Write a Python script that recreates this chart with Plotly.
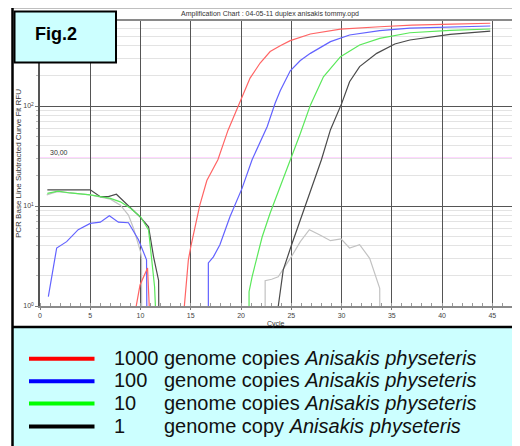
import plotly.graph_objects as go

# ---------------- data ----------------
red_cycles = [9.4, 9.95, 10.7, 11.0, 14.1, 14.76, 15.0, 15.6, 15.9, 16.6, 17.7, 18.7, 19.9, 20.9,
              21.9, 22.9, 23.9, 24.9, 26.9, 29.9, 33.8, 37.0, 41.0, 44.8]
red_values = [0.8, 1.62, 2.4, 0.5, 0.5, 2.88, 3.9, 7.6, 10.2, 18, 29, 57, 110, 190,
              269, 350, 400, 450, 525, 588, 620, 645, 660, 672]

blue_cycles = [0.83, 1.66, 2.65, 3.8, 5.0, 6.0, 6.9, 7.8, 8.8, 9.8, 10.6, 10.7, 16.75, 16.75,
               17.25, 17.9, 18.9, 19.6, 20.1, 21.1, 22.6, 23.4, 23.9, 24.9, 25.9, 26.9, 28.9,
               30.8, 33.8, 36.8, 40.8, 44.8]
blue_values = [1.24, 3.8, 4.4, 5.8, 6.7, 6.9, 8.0, 6.9, 6.8, 4.6, 2.9, 0.05, 0.05, 2.7,
               3.1, 4.1, 7.8, 11.5, 15, 29, 62, 107, 142, 225, 285, 336, 440,
               513, 567, 600, 620, 631]

green_cycles = [0.73, 1.8, 3.0, 5.0, 7.0, 8.0, 9.0, 10.0, 10.8, 11.1, 11.4, 11.7, 20.8, 20.8,
                21.1, 21.6, 22.1, 22.9, 23.9, 24.9, 25.9, 26.9, 28.2, 29.9, 31.8, 33.8, 36.8,
                40.8, 44.8]
green_values = [13.4, 14.1, 13.5, 12.9, 11.9, 11.0, 9.5, 7.8, 5.75, 3.1, 1.56, 0.3, 0.05, 1.39,
                1.96, 3.1, 4.9, 8.5, 15.6, 29, 53, 102, 196, 311, 407, 474, 540,
                570, 589]

black_cycles = [0.73, 2.0, 3.0, 5.0, 6.0, 6.8, 7.6, 9.0, 9.95, 10.8, 11.3, 11.8, 11.9, 23.3,
                24.2, 25.0, 26.0, 27.0, 28.0, 28.9, 30.0, 30.8, 31.8, 33.5, 35.3, 36.8, 40.8, 44.8]
black_values = [14.5, 14.5, 14.5, 14.5, 12.4, 12.4, 13.1, 9.5, 7.8, 6.2, 3.1, 1.8, 0.05, 0.5,
                2.3, 4.0, 7.8, 15.5, 29, 58, 105, 175, 248, 336, 417, 457, 520, 562]

gray_cycles = [0.67, 1.7, 3.0, 5.0, 7.0, 8.0, 8.8, 9.3, 10.0, 10.1, 10.15, 22.4, 22.4, 23.05,
               23.7, 24.4, 25.0, 25.9, 26.8, 27.9, 28.9, 29.95, 30.8, 31.8, 32.8, 33.8, 33.85]
gray_values = [12.9, 13.9, 13.5, 12.9, 11.7, 10.2, 8.1, 6.0, 3.5, 3.0, 0.05, 0.05, 1.79, 1.85,
               1.96, 2.5, 3.1, 4.4, 5.8, 5.1, 4.5, 4.7, 3.8, 4.1, 3.0, 1.5, 0.05]

threshold = 30.0
threshold_label = "30,00"

x_ticks = [0, 5, 10, 15, 20, 25, 30, 35, 40, 45]
y_ticks = [1, 10, 100]
y_ticktext = ["10<sup>0</sup>", "10<sup>1</sup>", "10<sup>2</sup>"]

legend_numbers = ["1000", "100", "10", "1"]
legend_words = ["genome copies", "genome copies", "genome copies", "genome copy"]
legend_species = "Anisakis physeteris"
legend_colors = ["#ff0000", "#0000ff", "#00ff00", "#000000"]

chart_title = "Amplification Chart : 04-05-11 duplex anisakis tommy.opd"
y_title = "PCR Base Line Subtracted Curve Fit RFU"
x_title = "Cycle"
fig_label = "Fig.2"

# ---------------- layout helpers (reference pixel -> paper) ----------------
# the page body adds an 8px margin, so the figure is 8px smaller and
# its margins are reduced on the left / top accordingly
OFF = 8
W, H = 520 - OFF, 446 - OFF
L, R, T, B = 40, 513, 21, 306


def px(x):
    return (x - L) / (R - L)


def py(y):
    return (B - y) / (B - T)


FONT = "Liberation Sans, Arial, sans-serif"

fig = go.Figure()
series = [
    (gray_cycles, gray_values, "#c2c2c2"),
    (black_cycles, black_values, "#4a4a4a"),
    (green_cycles, green_values, "#5ae85a"),
    (blue_cycles, blue_values, "#6262ff"),
    (red_cycles, red_values, "#ff6464"),
]
for xs, ys, col in series:
    fig.add_trace(go.Scatter(x=xs, y=ys, mode="lines",
                             line=dict(color=col, width=1.2), showlegend=False,
                             hoverinfo="skip"))

shapes = []
shapes.append(dict(type="line", xref="paper", yref="y", x0=px(38), x1=px(521),
                   y0=threshold, y1=threshold, line=dict(color="#ff66ff", width=1.3),
                   layer="between"))
shapes.append(dict(type="rect", xref="paper", yref="paper", x0=px(13), x1=px(522),
                   y0=py(448), y1=py(327.5), fillcolor="#ccffff", line=dict(width=0),
                   layer="below"))
shapes.append(dict(type="line", xref="paper", yref="paper", x0=px(12), x1=px(522),
                   y0=py(327), y1=py(327), line=dict(color="black", width=2.5)))
shapes.append(dict(type="line", xref="paper", yref="paper", x0=px(11.5), x1=px(522),
                   y0=py(7), y1=py(7), line=dict(color="black", width=2.5)))
shapes.append(dict(type="line", xref="paper", yref="paper", x0=px(12.5), x1=px(12.5),
                   y0=py(6), y1=py(448), line=dict(color="black", width=2.5)))
shapes.append(dict(type="rect", xref="paper", yref="paper", x0=px(14.5), x1=px(116),
                   y0=py(62.5), y1=py(11.5), fillcolor="#ccffff",
                   line=dict(color="black", width=2), layer="above"))
legend_rows = [358.8, 381.2, 403.6, 426.5]
for yy, col in zip(legend_rows, legend_colors):
    shapes.append(dict(type="line", xref="paper", yref="paper", x0=px(29), x1=px(94.5),
                       y0=py(yy), y1=py(yy), line=dict(color=col, width=4)))

annotations = []
annotations.append(dict(text="<b>" + fig_label + "</b>", xref="paper", yref="paper",
                        x=px(33), y=py(34), showarrow=False, xanchor="left", yanchor="middle",
                        font=dict(family=FONT, size=18, color="black")))
annotations.append(dict(text=chart_title, xref="paper", yref="paper", x=px(269.5), y=py(14),
                        showarrow=False, xanchor="center", yanchor="middle",
                        font=dict(family=FONT, size=7, color="#333333")))
annotations.append(dict(text=threshold_label, xref="paper", yref="paper", x=px(47.5), y=py(152.5),
                        showarrow=False, xanchor="left", yanchor="middle",
                        font=dict(family=FONT, size=7, color="#333333")))
annotations.append(dict(text=y_title, xref="paper", yref="paper", x=px(18), y=py(164),
                        showarrow=False, xanchor="center", yanchor="middle", textangle=-90,
                        font=dict(family=FONT, size=8, color="#333333")))
annotations.append(dict(text=x_title, xref="paper", yref="paper", x=px(276), y=py(324),
                        showarrow=False, xanchor="center", yanchor="middle",
                        font=dict(family=FONT, size=7, color="#333333")))
for yy, num, words in zip(legend_rows, legend_numbers, legend_words):
    annotations.append(dict(text=num, xref="paper", yref="paper", x=px(112), y=py(yy - 1),
                            showarrow=False, xanchor="left", yanchor="middle",
                            font=dict(family=FONT, size=20, color="#111111")))
    annotations.append(dict(text=words + " <i>" + legend_species + "</i>", xref="paper",
                            yref="paper", x=px(162), y=py(yy - 1),
                            showarrow=False, xanchor="left", yanchor="middle",
                            font=dict(family=FONT, size=20, color="#111111")))

minor_y = [m * d for d in (1, 10, 100) for m in range(2, 10) if m * d < 700]

fig.update_layout(
    width=W, height=H,
    margin=dict(l=L - OFF, r=520 - R, t=T - OFF, b=446 - B, autoexpand=False),
    paper_bgcolor="white", plot_bgcolor="white",
    shapes=shapes, annotations=annotations,
    xaxis=dict(range=[0, 47.06], tickvals=x_ticks, showgrid=True, gridcolor="#555555",
               gridwidth=1.3, zeroline=False, showline=True, linecolor="#8a8a8a",
               linewidth=1.5, mirror=True, ticks="outside", ticklen=2, tickcolor="#777777",
               tickfont=dict(family=FONT, size=7, color="#444444"), automargin=False,
               minor=dict(dtick=1, ticks="inside", ticklen=3, tickcolor="#999999",
                          showgrid=False)),
    yaxis=dict(type="log", range=[0, 2.85], tickvals=y_ticks, ticktext=y_ticktext,
               showgrid=True, gridcolor="#555555", gridwidth=1.3, zeroline=False,
               showline=True, linecolor="#555555", linewidth=1.5, mirror=True,
               ticks="outside", ticklen=3, tickcolor="#777777", automargin=False,
               tickfont=dict(family=FONT, size=7, color="#444444"),
               minor=dict(tickvals=minor_y, showgrid=True, gridcolor="#e3e3e3",
                          gridwidth=1, ticks="outside", ticklen=2, tickcolor="#bbbbbb")),
    showlegend=False,
)

fig.write_html("out.html")
